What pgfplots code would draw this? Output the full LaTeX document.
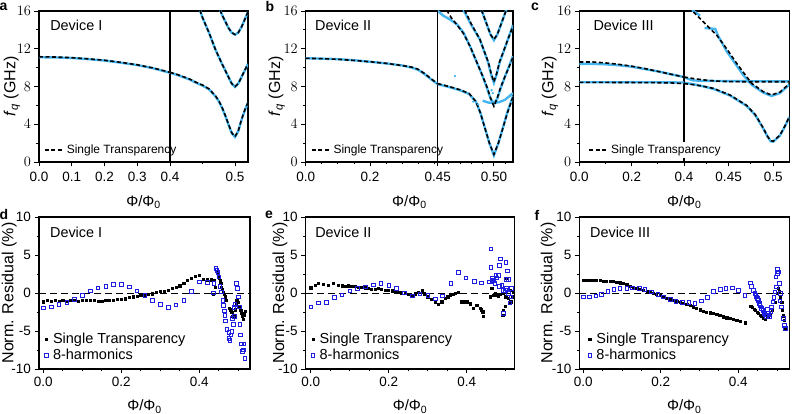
\documentclass[border=0pt]{standalone}
\usepackage{fontspec}
\setmainfont{Liberation Sans}
\usepackage{pgfplots}
\pgfplotsset{compat=1.18}

\definecolor{meas}{RGB}{70,182,240}
\definecolor{harm}{RGB}{30,30,225}

\tikzset{dev/.style={anchor=west, font=\fontsize{14.4}{16}\selectfont}}
\pgfplotsset{
  base/.style={scale only axis, anchor=south west, tick align=outside,
    axis line style={line width=1.1pt}, major tick length=4.5pt, minor tick length=2.5pt,
    every tick/.style={black, line width=0.9pt},
    tick label style={font=\fontsize{13.5}{15}\selectfont},
    xlabel style={font=\fontsize{15}{17}\selectfont, anchor=center},
    ylabel style={font=\fontsize{16}{18}\selectfont, anchor=center},
    xtick pos=left, ytick pos=left},
  toprow/.style={base, height=151pt, ymin=0, ymax=16,
    ytick={0,4,8,12,16}, minor ytick={2,6,10,14},
    xticklabel style={yshift=-2pt}},
  topl/.style={toprow, ylabel={\textit{f}\textsubscript{\textit{q}} (GHz)},
    xlabel={Φ/Φ\textsubscript{0}},
    legend style={draw=none, fill=none, anchor=south west, inner sep=1pt,
      column sep=2pt, font=\fontsize{12}{14}\selectfont}},
  topr/.style={toprow, ytick=\empty, minor ytick=\empty},
  botrow/.style={base, height=152pt, ymin=-10, ymax=10,
    ytick={-10,-5,0,5,10}, yticklabels={-10,-5,0,5,10},
    minor ytick={-7.5,-2.5,2.5,7.5},
    xtick={0,0.2,0.4}, xticklabels={0.0,0.2,0.4},
    minor xtick={0.05,0.1,0.15,0.25,0.3,0.35,0.45,0.5},
    xlabel={Φ/Φ\textsubscript{0}}, ylabel={Norm. Residual (\%)},
    xlabel style={at={(axis description cs:0.5,0)}, yshift=-37.7pt},
    legend cell align=left,
    legend style={draw=none, fill=none, anchor=south west, inner sep=1pt,
      row sep=0pt, column sep=3pt, font=\fontsize{14.5}{16}\selectfont}},
  fit/.style={black, line width=1.6pt, dash pattern=on 4pt off 2.5pt},
  data/.style={meas, line width=2.4pt},
  st/.style={only marks, mark=square*, mark size=1.1pt, black},
  hm/.style={only marks, mark=square, mark size=1.8pt, harm, mark options={line width=0.7pt}},
  zero/.style={black, line width=0.9pt, dash pattern=on 7pt off 4pt},
}

\begin{document}
\begin{tikzpicture}
\path[use as bounding box] (0,0) rectangle (794pt,414pt);

% ---------- a ----------
\begin{axis}[topr, at={(170pt,252pt)}, width=78pt, xmin=0.4, xmax=0.52,
  xtick={0.5}, xticklabels={0.5}, minor xtick={0.45}]
\addplot[data] coordinates {(0.4,9.45) (0.41,9.25) (0.42,9.0) (0.43,8.75) (0.44,8.4) (0.45,8.1) (0.46,7.7) (0.47,6.95) (0.475,6.45) (0.48,5.75) (0.485,4.9) (0.49,3.95) (0.495,3.05) (0.5,2.65) (0.505,3.25) (0.51,4.45) (0.515,5.45) (0.52,6.3)};
\addplot[data] coordinates {(0.446,16.1) (0.45,15.3) (0.46,13.7) (0.47,11.9) (0.48,10.4) (0.49,9.0) (0.495,8.3) (0.5,7.95) (0.505,8.3) (0.51,9.0) (0.515,9.7) (0.52,10.4)};
\addplot[data] coordinates {(0.477,16.1) (0.48,15.6) (0.485,14.9) (0.49,14.2) (0.495,13.7) (0.5,13.5) (0.505,13.7) (0.51,14.3) (0.515,15.1) (0.52,15.9)};
\addplot[fit] coordinates {(0.4,9.5) (0.41,9.3) (0.42,9.05) (0.43,8.8) (0.44,8.45) (0.45,8.15) (0.46,7.75) (0.47,7.0) (0.475,6.5) (0.48,5.8) (0.485,4.95) (0.49,4.0) (0.495,3.1) (0.5,2.7) (0.505,3.3) (0.51,4.5) (0.515,5.5) (0.52,6.3)};
\addplot[fit] coordinates {(0.446,16.1) (0.45,15.3) (0.46,13.7) (0.47,11.9) (0.48,10.4) (0.49,9.0) (0.495,8.3) (0.5,8.0) (0.505,8.3) (0.51,9.0) (0.515,9.7) (0.52,10.4)};
\addplot[fit] coordinates {(0.477,16.1) (0.48,15.6) (0.485,14.9) (0.49,14.2) (0.495,13.7) (0.5,13.5) (0.505,13.7) (0.51,14.3) (0.515,15.1) (0.52,15.9)};
\end{axis}
\begin{axis}[topl, at={(39pt,252pt)}, width=131pt, xmin=0, xmax=0.4,
  xtick={0,0.1,0.2,0.3,0.4}, xticklabels={0.0,0.1,0.2,0.3,0.4},
  xlabel style={at={(axis description cs:0.798,0)}, yshift=-40pt},
  ylabel style={at={(axis description cs:-0.206,0.5)}},
  legend style={at={(0.03,0.025)}}]
\addplot[data, forget plot] coordinates {(0,11.1) (0.05,11.08) (0.1,11.02) (0.15,10.9) (0.2,10.75) (0.25,10.52) (0.3,10.27) (0.35,9.92) (0.4,9.45)};
\addplot[fit] coordinates {(0,11.15) (0.05,11.12) (0.1,11.05) (0.15,10.93) (0.2,10.78) (0.25,10.56) (0.3,10.3) (0.35,9.95) (0.4,9.5)};
\addlegendentry{Single Transparency}
\node[dev] at (rel axis cs:0.059,0.907) {Device I};
\end{axis}

% ---------- b ----------
\begin{axis}[topr, at={(437.7pt,252pt)}, width=75.3pt, xmin=0.45, xmax=0.517,
  xtick={0.45,0.5}, xticklabels={0.45,0.50}, minor xtick={0.46,0.47,0.48,0.49,0.51}]
\addplot[data] coordinates {(0.45,8.25) (0.46,7.95) (0.47,7.6) (0.478,7.2) (0.484,6.4) (0.488,5.2) (0.492,3.6) (0.496,2.0) (0.5,0.7) (0.504,2.0) (0.508,3.6) (0.512,5.3) (0.517,7.0)};
\addplot[data] coordinates {(0.449,16.1) (0.455,15.5) (0.461,15.1) (0.467,14.6) (0.473,13.7) (0.479,12.2) (0.485,10.5) (0.49,9.1) (0.494,7.8) (0.497,6.7) (0.5,6.2) (0.503,6.7) (0.506,7.8) (0.51,9.1) (0.515,10.6) (0.517,11.2)};
\addplot[data] coordinates {(0.49,6.5) (0.495,6.3) (0.5,6.25) (0.505,6.35) (0.51,6.6) (0.514,7.0) (0.517,7.3)};
\addplot[data] coordinates {(0.473,16.1) (0.48,14.5) (0.4875,13.0) (0.495,10.5) (0.4975,9.3) (0.5,8.4) (0.5025,9.3) (0.505,10.5) (0.5125,13.0) (0.517,14.5)};
\addplot[data] coordinates {(0.489,16.1) (0.493,14.8) (0.497,13.5) (0.5,12.9) (0.503,13.5) (0.507,14.8) (0.511,16.1)};
\addplot[only marks, mark=*, mark size=0.9pt, meas] coordinates {(0.4654,9.1) (0.4816,6.4) (0.498,7.6) (0.499,7.3) (0.486,6.1)};
\addplot[fit] coordinates {(0.45,8.3) (0.46,8.0) (0.47,7.65) (0.478,7.25) (0.484,6.4) (0.488,5.2) (0.492,3.6) (0.496,2.0) (0.5,0.8) (0.504,2.0) (0.508,3.6) (0.512,5.2) (0.517,6.9)};
\addplot[fit] coordinates {(0.458,16.1) (0.462,15.3) (0.468,14.4) (0.473,13.6) (0.479,12.2) (0.485,10.5) (0.49,9.1) (0.494,7.9) (0.497,6.8) (0.5,5.9) (0.503,6.8) (0.506,7.9) (0.51,9.1) (0.515,10.5) (0.517,11.1)};
\addplot[fit] coordinates {(0.474,16.1) (0.48,14.6) (0.4875,13.0) (0.495,10.6) (0.4975,9.4) (0.5,8.5) (0.5025,9.4) (0.505,10.6) (0.5125,13.0) (0.517,14.4)};
\addplot[fit] coordinates {(0.489,16.1) (0.493,14.8) (0.497,13.5) (0.5,13.0) (0.503,13.5) (0.507,14.8) (0.511,16.1)};
\end{axis}
\begin{axis}[topl, at={(305.7pt,252pt)}, width=132pt, xmin=0, xmax=0.41,
  xtick={0,0.2}, xticklabels={0.0,0.2}, minor xtick={0.05,0.1,0.15,0.25,0.3,0.35,0.4},
  xlabel style={at={(axis description cs:0.786,0)}, yshift=-40pt},
  ylabel style={at={(axis description cs:-0.22,0.5)}},
  legend style={at={(0.03,0.025)}}]
\addplot[data, forget plot] coordinates {(0,11.0) (0.05,10.95) (0.1,10.9) (0.15,10.78) (0.2,10.62) (0.25,10.45) (0.3,10.22) (0.33,10.0) (0.35,9.75) (0.37,9.3) (0.39,8.75) (0.41,8.25)};
\addplot[fit] coordinates {(0,10.98) (0.05,10.95) (0.1,10.88) (0.15,10.76) (0.2,10.62) (0.25,10.45) (0.3,10.22) (0.33,10.05) (0.35,9.82) (0.37,9.35) (0.39,8.8) (0.41,8.3)};
\addlegendentry{Single Transparency}
\node[dev] at (rel axis cs:0.045,0.907) {Device II};
\end{axis}

% ---------- c ----------
\begin{axis}[topr, at={(684pt,252pt)}, width=105.3pt, xmin=0.4, xmax=0.518,
  xtick={0.45,0.5}, xticklabels={0.45,0.5}, minor xtick={0.425,0.475}]
\addplot[data] coordinates {(0.4,9.0) (0.405,8.8) (0.41,8.65) (0.42,8.6) (0.45,8.57) (0.5,8.55) (0.518,8.55)};
\addplot[data] coordinates {(0.4,8.4) (0.41,8.25) (0.42,8.05) (0.4329,7.75) (0.4515,7.05) (0.4701,5.95) (0.48,4.95) (0.4888,3.55) (0.493,2.8) (0.497,2.2) (0.5,2.15) (0.5075,2.8) (0.513,3.75) (0.518,4.75)};
\addplot[data] coordinates {(0.409,16.1) (0.418,15.5)};
\addplot[data] coordinates {(0.423,14.2) (0.435,14.1) (0.438,13.4) (0.448,11.7) (0.4665,9.2) (0.4757,8.2) (0.4888,7.35) (0.498,7.0) (0.5075,7.3) (0.518,8.2)};
\addplot[fit] coordinates {(0.4,9.0) (0.41,8.85) (0.42,8.72) (0.43,8.62) (0.44,8.56) (0.45,8.52) (0.47,8.5) (0.49,8.5) (0.518,8.5)};
\addplot[fit] coordinates {(0.4,8.3) (0.41,8.2) (0.42,8.05) (0.4329,7.8) (0.4515,7.1) (0.4701,6.0) (0.48,5.0) (0.4888,3.6) (0.493,2.8) (0.497,2.25) (0.5,2.2) (0.5075,2.85) (0.513,3.8) (0.518,4.8)};
\addplot[fit] coordinates {(0.4105,15.9) (0.42,15.0) (0.4366,13.45) (0.45,11.7) (0.459,10.45) (0.4757,8.34) (0.4888,7.45) (0.498,7.1) (0.5075,7.4) (0.518,8.3)};
\end{axis}
\begin{axis}[topl, at={(579.3pt,252pt)}, width=104.7pt, xmin=0, xmax=0.4,
  xtick={0,0.2,0.4}, xticklabels={0.0,0.2,0.4}, minor xtick={0.1,0.3},
  xlabel style={at={(axis description cs:1.003,0)}, yshift=-40pt},
  ylabel style={at={(axis description cs:-0.28,0.5)}},
  legend style={at={(0.075,0.025)}, fill=white}]
\addplot[data, forget plot] coordinates {(0,10.4) (0.05,10.4) (0.1,10.35) (0.15,10.25) (0.2,10.1) (0.25,9.85) (0.3,9.6) (0.35,9.3) (0.4,9.0)};
\addplot[data, forget plot] coordinates {(0,8.45) (0.1,8.45) (0.2,8.45) (0.3,8.45) (0.4,8.42)};
\addplot[fit] coordinates {(0,10.6) (0.05,10.6) (0.1,10.5) (0.15,10.35) (0.2,10.15) (0.25,9.9) (0.3,9.6) (0.35,9.3) (0.4,9.0)};
\addlegendentry{Single Transparency}
\addplot[fit, forget plot] coordinates {(0,8.44) (0.1,8.43) (0.2,8.42) (0.3,8.4) (0.35,8.38) (0.4,8.3)};
\node[dev] at (rel axis cs:0.102,0.907) {Device III};
\end{axis}

% ---------- d ----------
\begin{axis}[botrow, at={(39pt,45pt)}, width=211pt, xmin=-0.011, xmax=0.53,
  ylabel style={at={(axis description cs:-0.141,0.5)}},
  legend style={at={(0.02,0.03)}}]
\addplot[zero, forget plot] coordinates {(-0.011,0) (0.53,0)};
\addplot[st] coordinates {(0.000,-1.15) (0.010,-1.0) (0.020,-1.05) (0.030,-1.0) (0.040,-1.1) (0.050,-1.0) (0.060,-1.05) (0.070,-1.0) (0.080,-1.0) (0.090,-1.05) (0.100,-1.0) (0.110,-1.0) (0.120,-0.95) (0.130,-1.0) (0.140,-1.05) (0.150,-1.1) (0.160,-1.0) (0.170,-0.95) (0.180,-0.9) (0.190,-0.85) (0.200,-0.8) (0.210,-0.75) (0.220,-0.6) (0.230,-0.5) (0.240,-0.4) (0.250,-0.3) (0.260,-0.35) (0.270,-0.2) (0.280,-0.1) (0.290,0.1) (0.300,0.2) (0.310,0.25) (0.320,0.4) (0.330,0.6) (0.340,0.8) (0.350,0.95) (0.360,1.3) (0.370,1.65) (0.380,1.95) (0.390,2.2) (0.400,2.35) (0.410,1.8) (0.420,1.75) (0.430,1.75) (0.438,1.7) (0.440,0.8) (0.436,-0.15) (0.446,2.8) (0.448,2.35) (0.451,2.0) (0.453,1.7) (0.455,1.25) (0.457,0.8) (0.459,0.45) (0.4615,0.15) (0.464,-0.2) (0.466,-0.5) (0.468,-0.95) (0.476,-2.0) (0.4786,-2.2) (0.481,-2.4) (0.483,-2.5) (0.4855,-3.1) (0.488,-3.2) (0.490,-3.0) (0.492,-2.2) (0.494,-1.45) (0.4957,-0.95) (0.498,-1.0) (0.500,-1.2) (0.5026,-1.75) (0.506,-2.3) (0.5085,-2.7) (0.511,-3.1) (0.513,-3.5) (0.5154,-2.85) (0.517,-2.4)};
\addlegendentry{Single Transparency}
\addplot[hm] coordinates {(0,-1.95) (0.02,-1.8) (0.04,-1.5) (0.06,-1.2) (0.08,-0.8) (0.10,-0.3) (0.12,0.3) (0.14,0.7) (0.16,0.9) (0.18,1.15) (0.20,1.1) (0.22,0.8) (0.24,0.3) (0.26,-0.3) (0.28,-0.95) (0.30,-1.5) (0.32,-1.85) (0.34,-1.55) (0.36,-1.0) (0.38,0.2) (0.40,1.45) (0.42,1.37) (0.4376,1.25) (0.436,0.0) (0.442,3.25) (0.445,3.0) (0.448,2.7) (0.450,2.1) (0.453,0.9) (0.456,0.15) (0.46,-0.95) (0.4615,-1.6) (0.464,-2.35) (0.466,-2.95) (0.4675,-3.65) (0.471,-4.75) (0.476,-5.2) (0.476,-6.0) (0.4786,-6.2) (0.481,-5.5) (0.483,-5.05) (0.4855,-3.3) (0.487,-4.15) (0.489,-1.9) (0.490,-3.1) (0.491,-1.5) (0.4957,1.25) (0.497,0.6) (0.500,-0.5) (0.5026,-1.8) (0.504,-4.1) (0.506,-5.5) (0.5085,-6.7) (0.51,-7.7) (0.513,-7.5) (0.5145,-6.7) (0.517,-8.6)};
\addlegendentry{8-harmonics}
\node[dev] at (rel axis cs:0.036,0.9) {Device I};
\end{axis}

% ---------- e ----------
\begin{axis}[botrow, at={(305.7pt,45pt)}, width=208.6pt, xmin=-0.0128, xmax=0.522,
  ylabel style={at={(axis description cs:-0.123,0.5)}},
  legend style={at={(0.02,0.03)}}]
\addplot[zero, forget plot] coordinates {(-0.0128,0) (0.522,0)};
\addplot[st] coordinates {(0.0,0.7) (0.011,1.0) (0.02,1.25) (0.032,1.15) (0.045,1.0) (0.058,1.25) (0.071,1.0) (0.08,0.95) (0.088,0.9) (0.097,0.95) (0.105,0.9) (0.114,0.85) (0.122,0.8) (0.13,0.75) (0.139,0.7) (0.147,0.6) (0.156,0.45) (0.165,0.5) (0.173,0.6) (0.181,0.45) (0.19,0.35) (0.199,0.35) (0.208,0.3) (0.216,0.2) (0.225,0.15) (0.233,0.05) (0.242,-0.05) (0.25,-0.15) (0.259,-0.3) (0.267,-0.1) (0.276,0.15) (0.285,0.3) (0.292,-0.1) (0.30,-0.5) (0.31,-0.8) (0.319,-1.15) (0.327,-1.45) (0.336,-1.15) (0.344,-0.7) (0.351,-0.5) (0.357,-0.3) (0.364,-0.15) (0.37,-0.05) (0.379,0.15) (0.387,-1.15) (0.394,-1.15) (0.4,-1.15) (0.4085,-1.4) (0.417,-2.0) (0.4256,-1.6) (0.434,-2.0) (0.438,-2.2) (0.441,-2.45) (0.443,-3.05) (0.4598,-0.5) (0.464,0.6) (0.468,-0.3) (0.4726,-0.05) (0.477,-0.3) (0.481,-0.4) (0.486,-0.2) (0.4923,-2.9) (0.494,-2.25) (0.494,-0.05) (0.498,-1.75) (0.5,-0.5) (0.502,0.15) (0.502,1.9) (0.506,-0.7) (0.511,0.35) (0.5128,-1.15) (0.518,-0.5) (0.52,0.15)};
\addlegendentry{Single Transparency}
\addplot[hm] coordinates {(0,-1.8) (0.02,-1.3) (0.04,-1.25) (0.06,-0.6) (0.08,-0.25) (0.10,0.3) (0.12,0.6) (0.14,0.8) (0.16,1.05) (0.18,1.3) (0.20,1.0) (0.22,0.6) (0.24,0.0) (0.26,-0.4) (0.28,-0.1) (0.30,-0.3) (0.32,-0.75) (0.338,-0.35) (0.359,1.25) (0.379,2.7) (0.398,2.0) (0.419,1.55) (0.438,1.35) (0.458,1.45) (0.4615,5.8) (0.4615,3.4) (0.464,1.45) (0.466,1.9) (0.468,1.7) (0.47,1.6) (0.4726,1.25) (0.475,2.4) (0.477,2.0) (0.481,2.35) (0.4838,3.65) (0.484,0.9) (0.4855,4.5) (0.49,1.0) (0.494,0.35) (0.494,-2.7) (0.4983,0.35) (0.5,4.0) (0.502,1.8) (0.502,0.6) (0.504,2.9) (0.506,1.8) (0.506,-0.05) (0.511,-1.3) (0.5128,-0.5) (0.515,0.6)};
\addlegendentry{8-harmonics}
\node[dev] at (rel axis cs:0.029,0.9) {Device II};
\end{axis}

% ---------- f ----------
\begin{axis}[botrow, at={(579.3pt,45pt)}, width=210pt, xmin=-0.0103, xmax=0.5316,
  ylabel style={at={(axis description cs:-0.148,0.5)}},
  legend style={at={(0.035,0.03)}}]
\addplot[zero, forget plot] coordinates {(-0.0103,0) (0.5316,0)};
\addplot[st] coordinates {(0.0,1.7) (0.009,1.7) (0.017,1.7) (0.026,1.7) (0.034,1.7) (0.043,1.65) (0.052,1.6) (0.06,1.6) (0.069,1.6) (0.078,1.55) (0.086,1.47) (0.095,1.35) (0.103,1.25) (0.112,1.1) (0.12,0.9) (0.129,0.75) (0.138,0.6) (0.146,0.5) (0.155,0.37) (0.164,0.25) (0.172,0.15) (0.181,0.0) (0.189,-0.15) (0.198,-0.3) (0.206,-0.5) (0.215,-0.65) (0.224,-0.8) (0.232,-0.95) (0.241,-1.07) (0.25,-1.2) (0.258,-1.3) (0.267,-1.45) (0.275,-1.6) (0.284,-1.8) (0.292,-2.04) (0.301,-2.2) (0.31,-2.35) (0.318,-2.5) (0.327,-2.6) (0.335,-2.7) (0.344,-2.78) (0.352,-2.95) (0.361,-3.13) (0.37,-3.25) (0.378,-3.35) (0.387,-3.45) (0.396,-3.57) (0.405,-3.7) (0.417,-3.9) (0.432,-1.73) (0.436,-1.9) (0.44,-2.1) (0.444,-2.3) (0.448,-2.5) (0.452,-2.7) (0.456,-2.9) (0.46,-3.05) (0.464,-3.25) (0.469,-3.48) (0.473,-2.9) (0.476,-3.2) (0.482,-2.9) (0.488,-2.25) (0.495,-1.16) (0.5,-0.07) (0.503,0.6) (0.506,0.2) (0.509,-0.5) (0.512,-1.16) (0.514,-2.25) (0.516,-3.0) (0.518,-3.57) (0.521,-4.45) (0.522,-4.8)};
\addlegendentry{Single Transparency}
\addplot[hm] coordinates {(0.0,-0.5) (0.0155,-0.5) (0.032,-0.37) (0.047,-0.2) (0.063,0.24) (0.079,0.46) (0.0946,0.6) (0.112,0.6) (0.127,0.68) (0.144,0.6) (0.159,0.46) (0.175,0.15) (0.192,-0.2) (0.206,-0.5) (0.224,-0.8) (0.239,-1.07) (0.255,-1.25) (0.272,-1.25) (0.288,-1.38) (0.304,-1.03) (0.32,-0.6) (0.335,0.2) (0.353,0.46) (0.368,0.6) (0.385,0.68) (0.4,0.37) (0.417,-0.33) (0.4318,1.33) (0.4344,0.9) (0.4387,0.37) (0.443,-0.07) (0.4455,-0.3) (0.4473,-0.5) (0.449,-0.7) (0.4516,-0.94) (0.4542,-1.38) (0.456,-1.6) (0.4577,-1.82) (0.46,-2.0) (0.4628,-2.25) (0.4662,-2.69) (0.469,-2.9) (0.4714,-3.04) (0.4748,-2.17) (0.4774,-2.6) (0.479,-2.9) (0.4817,-3.13) (0.484,-2.4) (0.486,-1.82) (0.4886,-1.16) (0.492,-0.59) (0.4946,0.15) (0.4989,0.81) (0.4972,2.12) (0.5006,2.56) (0.5006,3.09) (0.503,2.8) (0.5058,1.25) (0.5092,-0.07) (0.5075,-1.03) (0.5118,-1.82) (0.5161,-3.35) (0.5187,-4.22) (0.5213,-4.66)};
\addlegendentry{8-harmonics}
\node[dev] at (rel axis cs:0.035,0.9) {Device III};
\end{axis}

% panel letters
\node[font=\bfseries\fontsize{14}{16}\selectfont] at (3.5pt,406.7pt) {a};
\node[font=\bfseries\fontsize{14}{16}\selectfont] at (270pt,407pt) {b};
\node[font=\bfseries\fontsize{14}{16}\selectfont] at (535pt,406.7pt) {c};
\node[font=\bfseries\fontsize{14}{16}\selectfont] at (4pt,199pt) {d};
\node[font=\bfseries\fontsize{14}{16}\selectfont] at (269pt,199pt) {e};
\node[font=\bfseries\fontsize{14}{16}\selectfont] at (537pt,199pt) {f};
\end{tikzpicture}
\end{document}
